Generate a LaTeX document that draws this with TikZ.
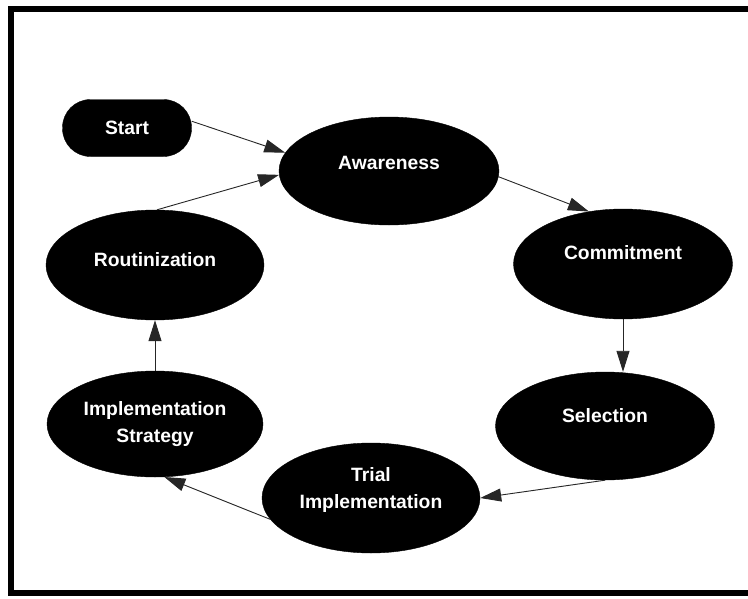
\documentclass[tikz,border=0pt]{standalone}
\usepackage{fontspec}
\setmainfont{Liberation Sans}
\usetikzlibrary{shapes.geometric,arrows.meta}
\begin{document}
\begin{tikzpicture}[x=1pt,y=-1pt,
  blob/.style={ellipse,fill=black,draw=black,inner sep=0pt},
  startbox/.style={rectangle,rounded corners=28pt,fill=black,draw=black,inner sep=0pt,
    minimum width=129pt,minimum height=57pt},
  txt/.style={text=white,font=\fontsize{19.3}{27.5}\selectfont\bfseries,align=center,inner sep=0pt},
  conn/.style={line width=0.9pt,draw=black!85,-{Triangle[length=21pt,width=13pt]}},
  framel/.style={line width=6pt,draw=black}
]
\useasboundingbox (0,0) rectangle (748,598);
% frame
\draw[framel] (760,9) -- (11,9) -- (11,593) -- (760,593);
% nodes
\node[startbox] (st) at (127,128) {};
\node[txt] (st-t) at (st.center) {Start};
\node[blob,minimum width=220pt,minimum height=108pt] (aw) at (389,171) {};
\node[txt] (aw-t) at ([yshift=8pt]aw.center) {Awareness};
\node[blob,minimum width=218pt,minimum height=110pt] (ro) at (155,265) {};
\node[txt] (ro-t) at ([yshift=5pt]ro.center) {Routinization};
\node[blob,minimum width=216pt,minimum height=106pt] (is) at (155,424) {};
\node[txt] (is-t) at ([yshift=0pt]is.center) {Implementation\\Strategy};
\node[blob,minimum width=219pt,minimum height=110pt] (co) at (623,264) {};
\node[txt] (co-t) at ([yshift=11pt]co.center) {Commitment};
\node[blob,minimum width=219pt,minimum height=108pt] (se) at (605,426) {};
\node[txt] (se-t) at ([yshift=10pt]se.center) {Selection};
\node[blob,minimum width=218pt,minimum height=110pt] (tr) at (371,498) {};
\node[txt] (tr-t) at ([yshift=8pt]tr.center) {Trial\\Implementation};
% connectors
\draw[conn] (st.6) -- (aw.170);
\draw[conn] (ro.88) -- (aw.182);
\draw[conn] (aw.-3) -- (co.123);
\draw[conn] (co.south) -- (co.south |- se.north);
\draw[conn] (se.south) -- (tr.east);
\draw[conn] (tr.192) -- (is.-80);
\draw[conn] (is.north) -- (ro.south);
\end{tikzpicture}
\end{document}
